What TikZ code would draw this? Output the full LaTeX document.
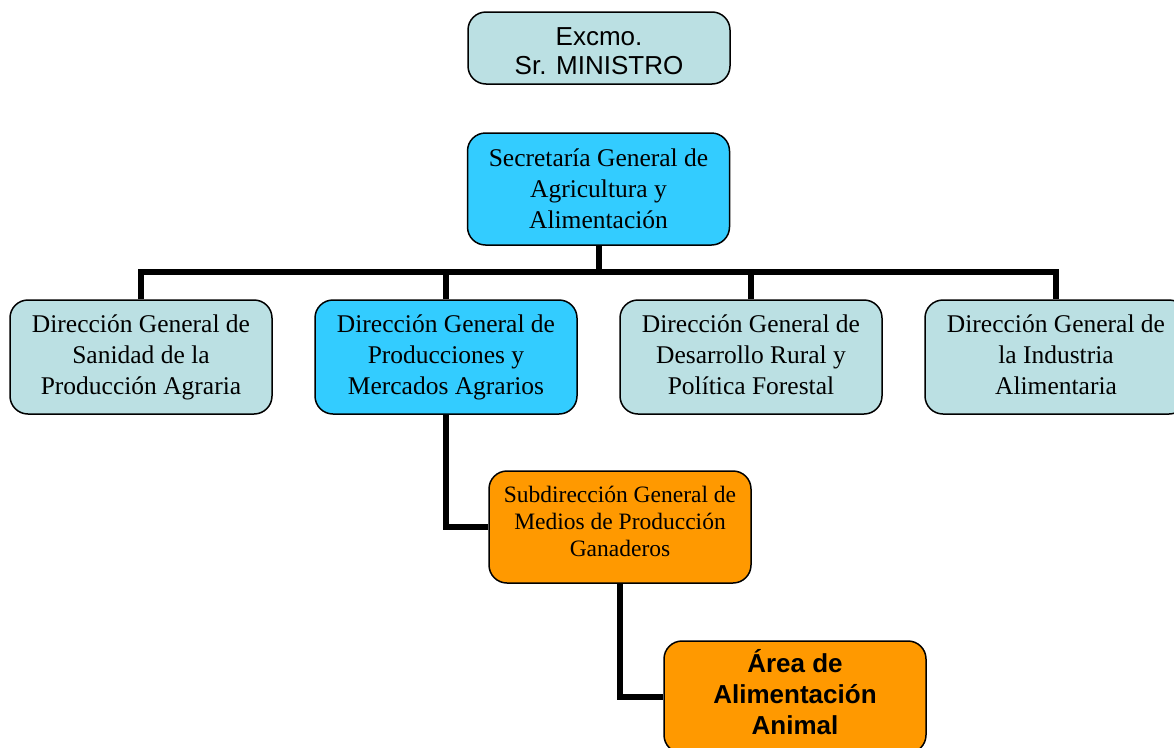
\documentclass[tikz,border=0pt]{standalone}
\usepackage{fontspec}
\setmainfont{Liberation Serif}
\setsansfont{Liberation Sans}
\definecolor{paleblue}{HTML}{BBE0E3}
\definecolor{skyblue}{HTML}{33CCFF}
\definecolor{orangebox}{HTML}{FF9900}
\tikzset{
  orgbox/.style={draw=black, line width=1.5pt, rounded corners=18pt, align=center,
    minimum width=262pt, inner sep=2pt, text=black},
  serifbig/.style={font=\fontsize{25.5}{31}\selectfont},
  serifsmall/.style={font=\fontsize{23.5}{27}\selectfont},
  link/.style={line width=6pt, black}
}
\begin{document}
\begin{tikzpicture}[x=1pt,y=-1pt]
\clip (0,0) rectangle (1174,747);
\useasboundingbox (0,0) rectangle (1174,747);
\fill[white] (0,0) rectangle (1174,747);

\node[orgbox, fill=paleblue, minimum height=72pt, font=\sffamily\fontsize{26}{29}\selectfont] (min) at (599,48) {\rule{0pt}{24pt}Excmo.\\Sr. MINISTRO};
\node[orgbox, fill=skyblue, minimum height=112pt, serifbig, text depth=1.5pt] (sec) at (598.5,189) {Secretaría General de\\Agricultura y\\Alimentación};

\node[orgbox, fill=paleblue, minimum height=114pt, serifbig] (d1) at (141,357) {Dirección General de\\Sanidad de la\\Producción Agraria};
\node[orgbox, fill=skyblue, minimum height=114pt, serifbig] (d2) at (446,357) {Dirección General de\\Producciones y\\Mercados Agrarios};
\node[orgbox, fill=paleblue, minimum height=114pt, serifbig, text depth=4pt] (d3) at (751,357) {Dirección General de\\Desarrollo Rural y\\Política Forestal};
\node[orgbox, fill=paleblue, minimum height=114pt, serifbig, text depth=4pt] (d4) at (1056,357) {Dirección General de\\la Industria\\Alimentaria};

\node[orgbox, fill=orangebox, minimum height=112pt, serifsmall, text depth=12pt] (sub) at (620,527) {Subdirección General de\\Medios de Producción\\Ganaderos};
\node[orgbox, fill=orangebox, minimum height=112pt, font=\sffamily\bfseries\fontsize{26}{31}\selectfont, text depth=10pt] (area) at (795,697) {Área de\\Alimentación\\Animal};

\coordinate (bus) at (598,272);
\draw[link] (sec.south) -- (sec.south |- bus);
\draw[link] (d1.north) -- (d1.north |- bus) -- (d4.north |- bus) -- (d4.north);
\draw[link] (d2.north) -- (d2.north |- bus);
\draw[link] (d3.north) -- (d3.north |- bus);
\draw[link] (d2.south) |- (sub.west);
\draw[link] (sub.south) |- (area.west);
\end{tikzpicture}
\end{document}
